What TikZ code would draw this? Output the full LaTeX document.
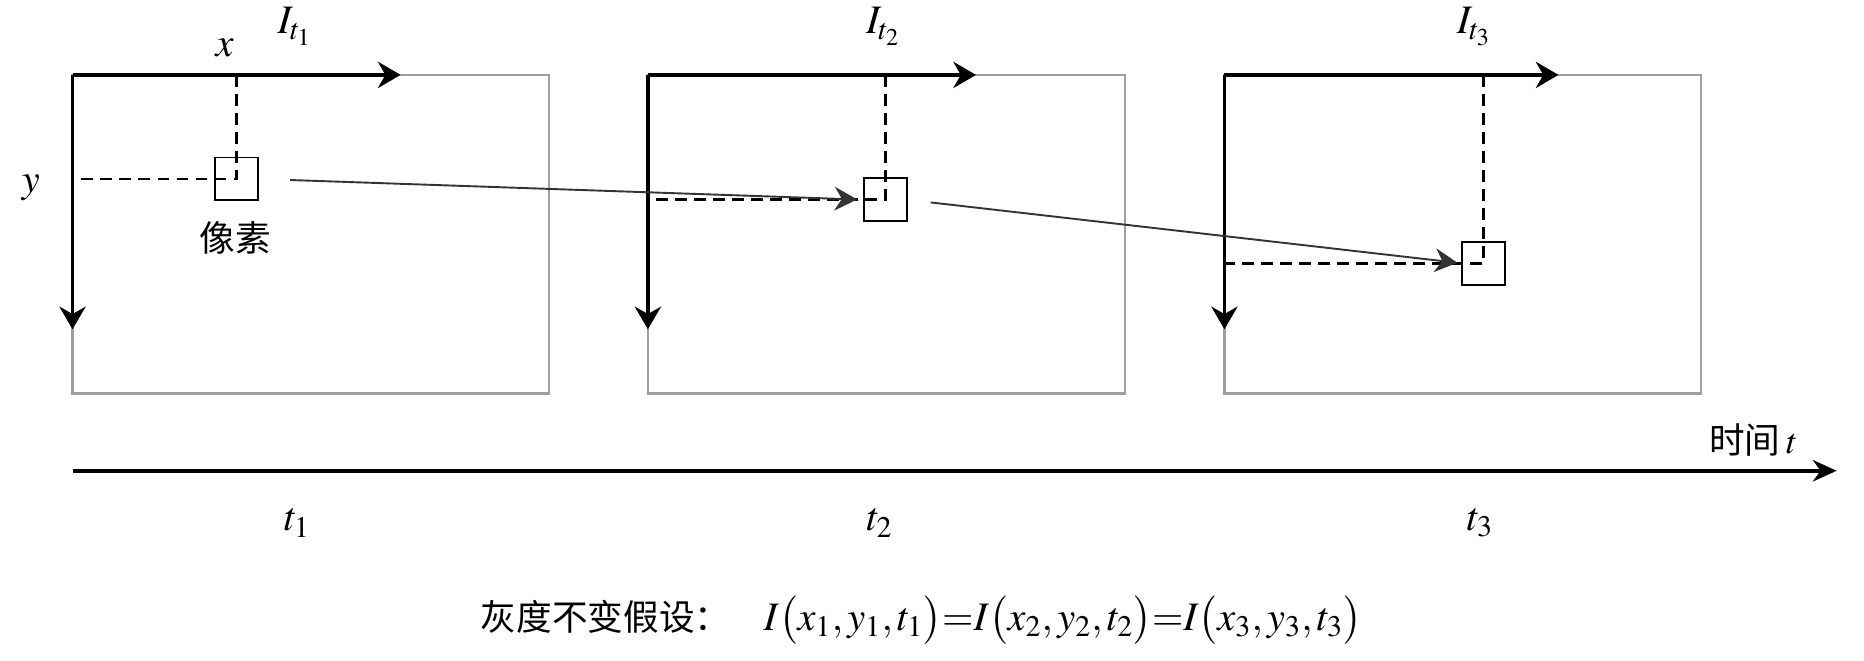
\documentclass[tikz,border=0pt]{standalone}
\usepackage{mathptmx}
\usepackage{fontspec}
\newfontfamily\cjk{Noto Sans CJK SC}
\usetikzlibrary{arrows.meta}
\begin{document}
\begin{tikzpicture}[x=0.5pt,y=-0.5pt,
  frame/.style={draw=gray!75, line width=0.9pt, inner sep=0pt, outer sep=0pt, minimum width=200.5pt, minimum height=134pt, anchor=north west},
  axisline/.style={line width=1.6pt, -{Stealth[length=9.5pt,width=11pt]}},
  guide/.style={dash pattern=on 5pt off 3pt, line width=1.1pt},
  pix/.style={draw, line width=0.7pt, minimum size=18pt, inner sep=0pt, outer sep=0pt},
  motion/.style={line width=0.8pt, draw=black!80, -{Stealth[length=9.5pt,width=10pt]}},
  lab/.style={font=\fontsize{17}{20}\selectfont, inner sep=1pt},
  cn/.style={font=\cjk\fontsize{15}{18}\selectfont, inner sep=1pt}]
\useasboundingbox (0,0) rectangle (1568,556);
% frames
\node[frame] (f1) at (61,63) {};
\node[frame] (f2) at (545,63) {};
\node[frame] (f3) at (1030,63) {};
% axes
\draw[axisline] (f1.north west) -- ++(276,0);
\draw[axisline] (f1.north west) -- ++(0,214);
\draw[axisline] (f2.north west) -- ++(276,0);
\draw[axisline] (f2.north west) -- ++(0,214);
\draw[axisline] (f3.north west) -- ++(281,0);
\draw[axisline] (f3.north west) -- ++(0,214);
% pixels
\node[pix] (p1) at (199,150.5) {};
\node[pix] (p2) at (745,168) {};
\node[pix] (p3) at (1248,221.5) {};
% guides
\draw[guide] (p1.center |- f1.north) -- (p1.center) -- (f1.west |- p1.center);
\draw[guide] (p2.center |- f2.north) -- (p2.center) -- (f2.west |- p2.center);
\draw[guide] (p3.center |- f3.north) -- (p3.center) -- (f3.west |- p3.center);
% motion
\draw[motion, shorten <=13.5pt, shorten >=3pt] (p1.east) -- (p2.west);
\draw[motion, shorten <=10pt, shorten >=2pt] (p2.east) -- (p3.west);
% labels
\node[lab] (lx) at (189,40) {$x$};
\node[lab] (ly) at (26,158) {$y$};
\node[lab] (I1) at (248,22) {$I_{t_1}$};
\node[lab] (I2) at (743,22) {$I_{t_2}$};
\node[lab] (I3) at (1240,22) {$I_{t_3}$};
\node[cn] (px) at (198,200) {像素};
% time axis
\coordinate (ts) at (61,396);
\coordinate (te) at (1545,396);
\draw[line width=1.8pt, -{Stealth[length=10pt,width=9pt]}] (ts) -- (te);
\node[cn] (tl) at (1475,370) {时间\,$t$};
\node[lab] (t1) at (250,440) {$t_1$};
\node[lab] (t2) at (740,440) {$t_2$};
\node[lab] (t3) at (1245,440) {$t_3$};
% formula
\node[lab] (eq) at (775,522) {{\cjk\fontsize{15}{18}\selectfont 灰度不变假设：}\hspace{14pt}$I\bigl(x_1,y_1,t_1\bigr){=}I\bigl(x_2,y_2,t_2\bigr){=}I\bigl(x_3,y_3,t_3\bigr)$};
\end{tikzpicture}
\end{document}
